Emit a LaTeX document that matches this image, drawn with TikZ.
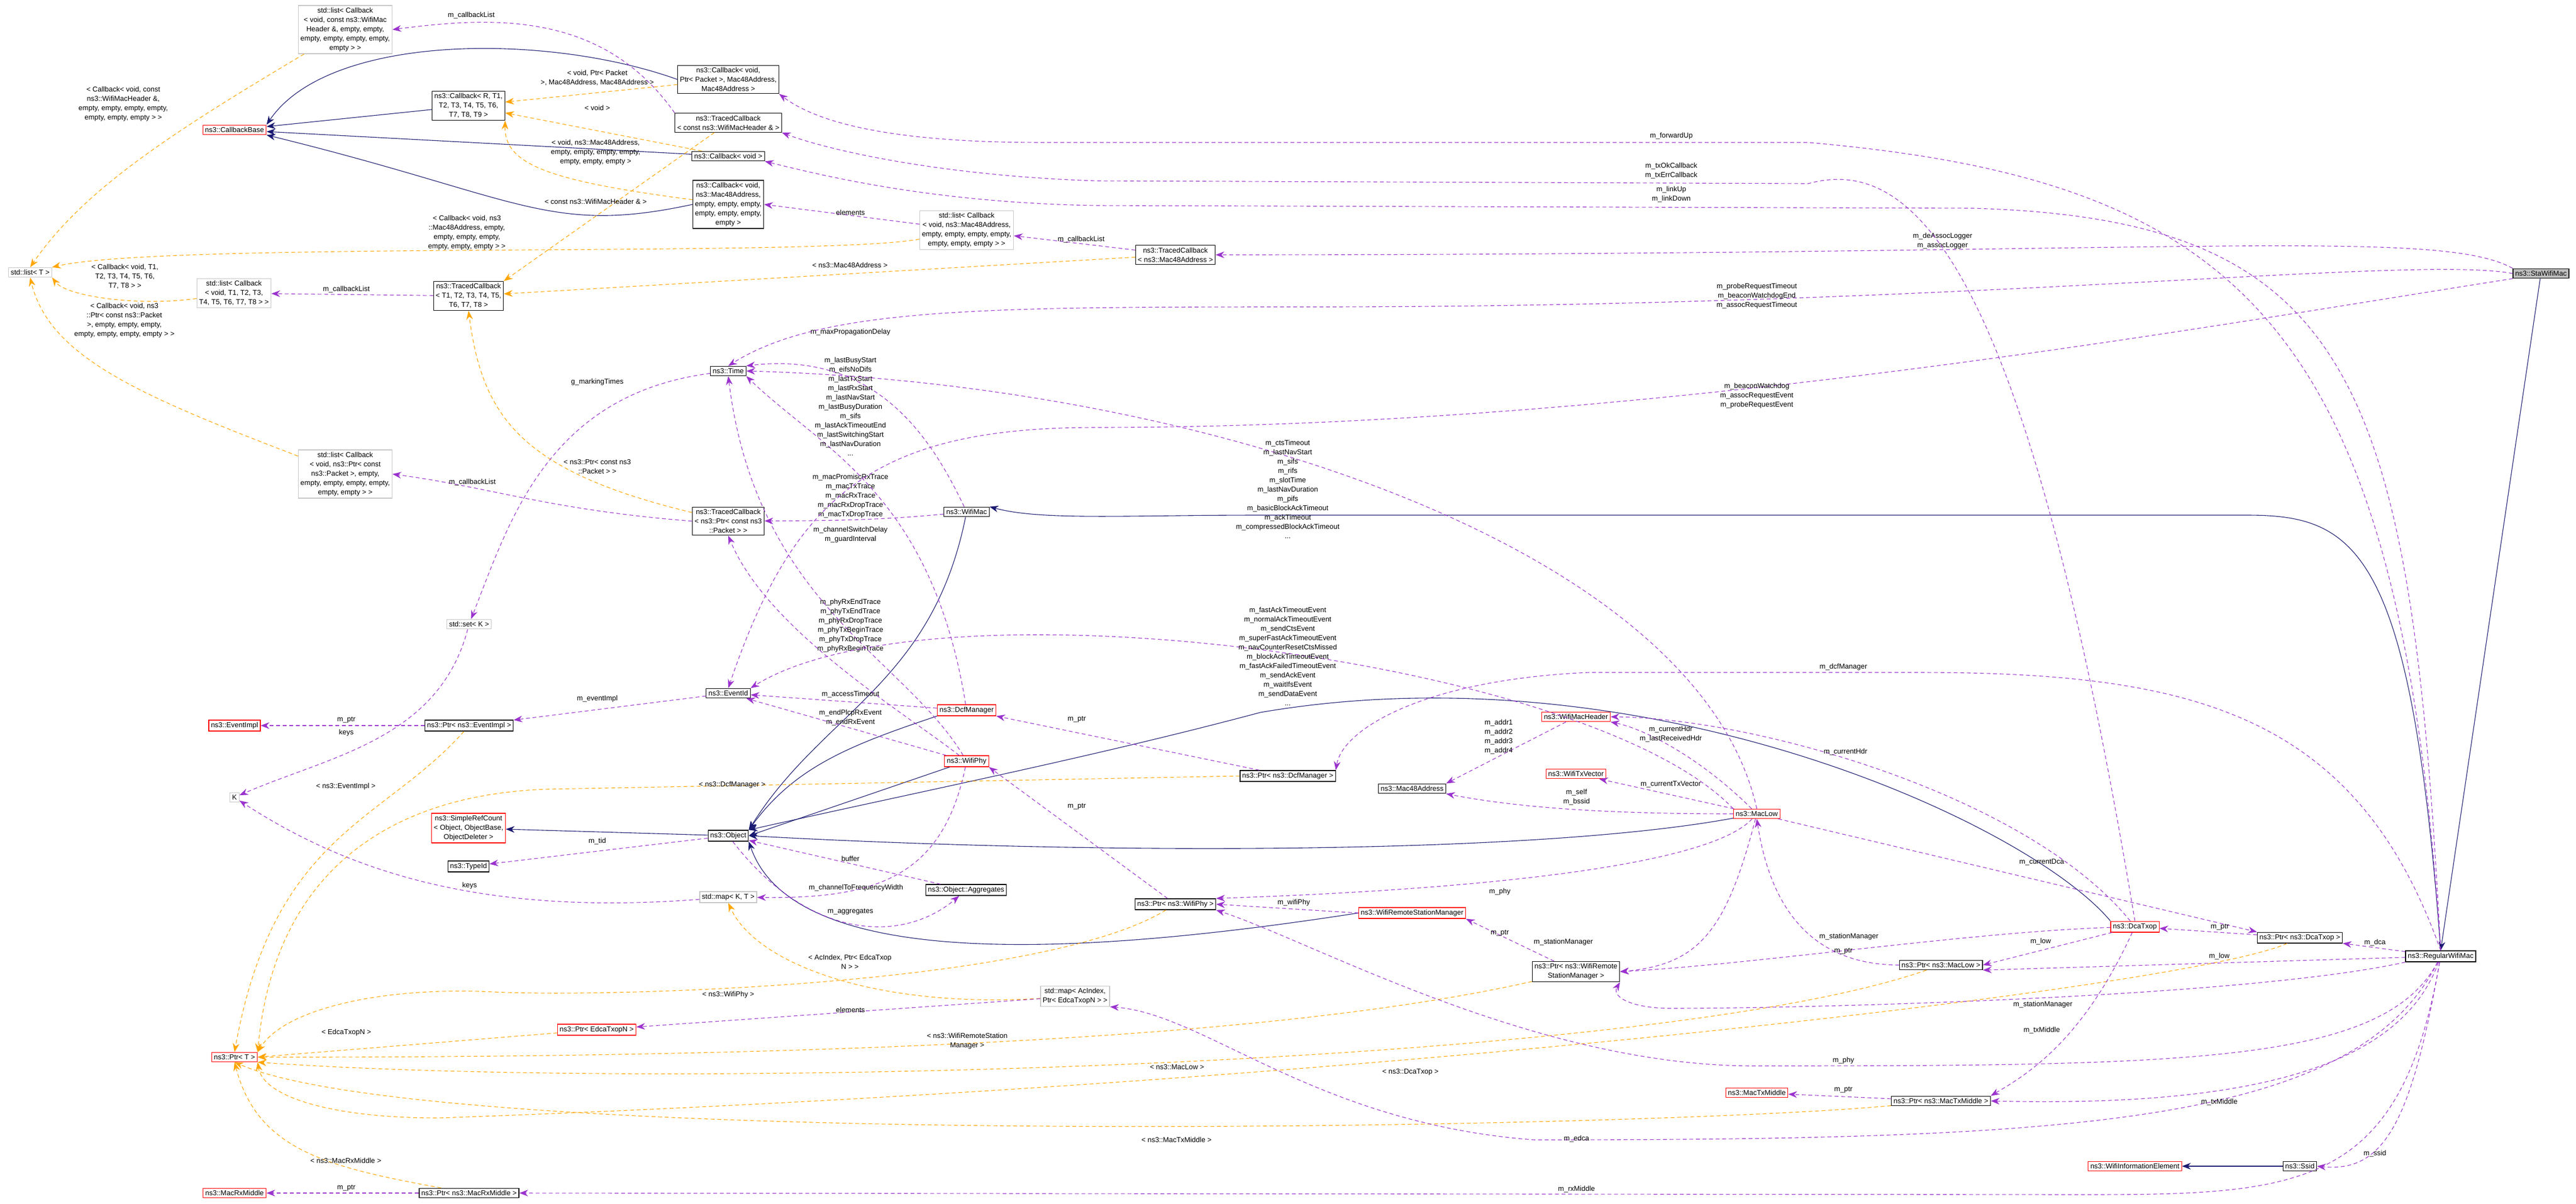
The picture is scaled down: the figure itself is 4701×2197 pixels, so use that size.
\documentclass[tikz,border=0pt]{standalone}
\usepackage{fontspec}
\setmainfont{Liberation Sans}
\usetikzlibrary{arrows.meta}
\definecolor{inhcol}{RGB}{25,25,112}
\definecolor{usecol}{RGB}{154,50,205}
\definecolor{tplcol}{RGB}{255,165,0}
\tikzset{
  cls/.style={draw=black, fill=white, font=\fontsize{13}{17}\selectfont, align=center, inner sep=4pt, line width=1.2pt},
  redcls/.style={cls, draw=red},
  stdcls/.style={cls, draw=gray!45},
  lbl/.style={font=\fontsize{13}{17}\selectfont, align=center, inner sep=1pt},
  inh/.style={draw=inhcol, line width=1.1pt, -{Stealth[length=16pt,width=12pt]}},
  use/.style={draw=usecol, line width=1.1pt, dash pattern=on 7pt off 5pt, -{Stealth[length=16pt,width=12pt]}},
  tpl/.style={draw=tplcol, line width=1.1pt, dash pattern=on 7pt off 5pt, -{Stealth[length=16pt,width=12pt]}}
}
\begin{document}
\begin{tikzpicture}[x=1pt,y=1pt,yscale=-1]
\useasboundingbox (0,0) rectangle (4701,2197);

% classes
\node[stdcls] (listHdr) at (630,54) {std::list\textless{} Callback\\\textless{} void, const ns3::WifiMac\\Header \&, empty, empty,\\empty, empty, empty, empty,\\empty \textgreater{} \textgreater{}};
\node[redcls] (cbBase) at (428,237) {ns3::CallbackBase};
\node[cls] (cbR) at (855,193) {ns3::Callback\textless{} R, T1,\\T2, T3, T4, T5, T6,\\T7, T8, T9 \textgreater{}};
\node[stdcls] (listT) at (55,497) {std::list\textless{} T \textgreater{}};
\node[stdcls] (listTT) at (427,535) {std::list\textless{} Callback\\\textless{} void, T1, T2, T3,\\T4, T5, T6, T7, T8 \textgreater{} \textgreater{}};
\node[cls] (tracedT) at (855,540) {ns3::TracedCallback\\\textless{} T1, T2, T3, T4, T5,\\T6, T7, T8 \textgreater{}};
\node[cls] (cbPkt) at (1329,145) {ns3::Callback\textless{} void,\\Ptr\textless{} Packet \textgreater{}, Mac48Address,\\Mac48Address \textgreater{}};
\node[cls] (tracedHdr) at (1329,224) {ns3::TracedCallback\\\textless{} const ns3::WifiMacHeader \& \textgreater{}};
\node[cls] (cbVoid) at (1329,285) {ns3::Callback\textless{} void \textgreater{}};
\node[cls] (cbMac) at (1329,373) {ns3::Callback\textless{} void,\\ns3::Mac48Address,\\empty, empty, empty,\\empty, empty, empty,\\empty \textgreater{}};
\node[stdcls] (listMac) at (1764,420) {std::list\textless{} Callback\\\textless{} void, ns3::Mac48Address,\\empty, empty, empty, empty,\\empty, empty, empty \textgreater{} \textgreater{}};
\node[cls] (tracedMac) at (2145,465) {ns3::TracedCallback\\\textless{} ns3::Mac48Address \textgreater{}};
\node[cls] (time) at (1329,677) {ns3::Time};
\node[stdcls] (listPkt) at (630,865) {std::list\textless{} Callback\\\textless{} void, ns3::Ptr\textless{} const\\ns3::Packet \textgreater{}, empty,\\empty, empty, empty, empty,\\empty, empty \textgreater{} \textgreater{}};
\node[cls] (tracedPkt) at (1329,951) {ns3::TracedCallback\\\textless{} ns3::Ptr\textless{} const ns3\\::Packet \textgreater{} \textgreater{}};
\node[cls] (wifiMac) at (1764,934) {ns3::WifiMac};
\node[stdcls] (setK) at (856,1139) {std::set\textless{} K \textgreater{}};
\node[cls] (eventId) at (1329,1265) {ns3::EventId};
\node[redcls] (dcfMgr) at (1764,1296) {ns3::DcfManager};
\node[redcls] (eventImpl) at (428,1324) {ns3::EventImpl};
\node[cls] (ptrEvent) at (856,1324) {ns3::Ptr\textless{} ns3::EventImpl \textgreater{}};
\node[redcls] (wifiPhy) at (1764,1389) {ns3::WifiPhy};
\node[cls] (ptrDcf) at (2350,1416) {ns3::Ptr\textless{} ns3::DcfManager \textgreater{}};
\node[stdcls] (keyK) at (428,1455) {K};
\node[redcls] (simpleRef) at (855,1511) {ns3::SimpleRefCount\\\textless{} Object, ObjectBase,\\ObjectDeleter \textgreater{}};
\node[cls] (object) at (1329,1525) {ns3::Object};
\node[cls] (typeId) at (855,1581) {ns3::TypeId};
\node[cls] (aggr) at (1763,1624) {ns3::Object::Aggregates};
\node[stdcls] (mapKT) at (1329,1637) {std::map\textless{} K, T \textgreater{}};
\node[cls] (ptrPhy) at (2145,1650) {ns3::Ptr\textless{} ns3::WifiPhy \textgreater{}};
\node[stdcls] (mapAc) at (1962,1818) {std::map\textless{} AcIndex,\\Ptr\textless{} EdcaTxopN \textgreater{} \textgreater{}};
\node[redcls] (ptrEdca) at (1089,1879) {ns3::Ptr\textless{} EdcaTxopN \textgreater{}};
\node[redcls] (ptrT) at (428,1929) {ns3::Ptr\textless{} T \textgreater{}};
\node[redcls] (rxMid) at (428,2177) {ns3::MacRxMiddle};
\node[cls] (ptrRx) at (856,2177) {ns3::Ptr\textless{} ns3::MacRxMiddle \textgreater{}};
\node[redcls] (hdr) at (2876,1308) {ns3::WifiMacHeader};
\node[redcls] (txVec) at (2876,1412) {ns3::WifiTxVector};
\node[cls] (mac48) at (2577,1439) {ns3::Mac48Address};
\node[redcls] (macLow) at (3206,1485) {ns3::MacLow};
\node[redcls] (wrsm) at (2577,1666) {ns3::WifiRemoteStationManager};
\node[cls] (ptrWrsm) at (2876,1773) {ns3::Ptr\textless{} ns3::WifiRemote\\StationManager \textgreater{}};
\node[cls] (ptrLow) at (3542,1761) {ns3::Ptr\textless{} ns3::MacLow \textgreater{}};
\node[redcls] (txMid) at (3206,1994) {ns3::MacTxMiddle};
\node[cls] (ptrTx) at (3542,2009) {ns3::Ptr\textless{} ns3::MacTxMiddle \textgreater{}};
\node[redcls] (dca) at (3896,1691) {ns3::DcaTxop};
\node[cls] (ptrDca) at (4197,1711) {ns3::Ptr\textless{} ns3::DcaTxop \textgreater{}};
\node[cls] (regMac) at (4454,1745) {ns3::RegularWifiMac};
\node[redcls] (infoElem) at (3896,2128) {ns3::WifiInformationElement};
\node[cls] (ssid) at (4197,2128) {ns3::Ssid};
\node[cls, fill=gray!50] (staMac) at (4637,499) {ns3::StaWifiMac};

% inheritance
\draw[inh] (cbPkt.west) .. controls (1000,60) and (600,60) .. (cbBase.north east);
\draw[inh] (cbR) -- (cbBase);
\draw[inh] (cbVoid) -- (cbBase);
\draw[inh] (cbMac.west) .. controls (1000,430) and (950,360) .. (cbBase.south east);
\draw[inh] (wifiMac) .. controls (1700,1250) and (1500,1300) .. (object.north east);
\draw[inh] (dcfMgr.south west) .. controls (1550,1360) and (1450,1400) .. (object.north east);
\draw[inh] (wifiPhy) -- (object.east);
\draw[inh] (macLow) .. controls (2800,1560) and (2000,1560) .. (object.east);
\draw[inh] (wrsm.west) .. controls (2000,1740) and (1450,1780) .. (object.south east);
\draw[inh] (dca.north west) .. controls (3700,1500) and (3000,1180) .. (2300,1300) .. controls (2000,1380) and (1700,1440) .. (object.north east);
\draw[inh] (regMac.north) .. controls (4400,1000) and (4300,940) .. (4100,940) -- (2300,940) .. controls (2050,940) and (1900,950) .. (wifiMac.north east);
\draw[inh] (staMac) -- (regMac.north);
\draw[inh] (object) -- (simpleRef);
\draw[inh] (ssid) -- (infoElem);

% template instances
\draw[tpl] (listHdr) .. controls (300,250) and (150,350) .. (listT.north);
\node[lbl] (tlHdr) at (225,190) {\textless{} Callback\textless{} void, const\\ns3::WifiMacHeader \&,\\empty, empty, empty, empty,\\empty, empty, empty \textgreater{} \textgreater{}};
\draw[tpl] (cbPkt) -- (cbR);
\node[lbl] (tlPkt) at (1090,142) {\textless{} void, Ptr\textless{} Packet\\\textgreater{}, Mac48Address, Mac48Address \textgreater{}};
\draw[tpl] (cbVoid) -- (cbR);
\node[lbl] (tlVoid) at (1090,197) {\textless{} void \textgreater{}};
\draw[tpl] (cbMac) .. controls (1000,330) and (920,300) .. (cbR.south east);
\node[lbl] (tlMac) at (1087,278) {\textless{} void, ns3::Mac48Address,\\empty, empty, empty, empty,\\empty, empty, empty \textgreater{}};
\draw[tpl] (tracedHdr) -- (tracedT.north east);
\node[lbl] (tlHdr2) at (1087,368) {\textless{} const ns3::WifiMacHeader \& \textgreater{}};
\draw[tpl] (listMac) .. controls (1500,470) and (300,440) .. (listT.north east);
\node[lbl] (tlList) at (852,425) {\textless{} Callback\textless{} void, ns3\\::Mac48Address, empty,\\empty, empty, empty,\\empty, empty, empty \textgreater{} \textgreater{}};
\draw[tpl] (listTT) .. controls (250,560) and (120,540) .. (listT.south east);
\node[lbl] (tlTT) at (228,505) {\textless{} Callback\textless{} void, T1,\\T2, T3, T4, T5, T6,\\T7, T8 \textgreater{} \textgreater{}};
\draw[tpl] (listPkt) .. controls (250,720) and (90,650) .. (listT.south);
\node[lbl] (tlListPkt) at (227,585) {\textless{} Callback\textless{} void, ns3\\::Ptr\textless{} const ns3::Packet\\\textgreater{}, empty, empty, empty,\\empty, empty, empty, empty \textgreater{} \textgreater{}};
\draw[tpl] (tracedMac) -- (tracedT);
\node[lbl] (tlTMac) at (1551,484) {\textless{} ns3::Mac48Address \textgreater{}};
\draw[tpl] (tracedPkt) .. controls (950,860) and (880,760) .. (tracedT.south);
\node[lbl] (tlTPkt) at (1090,852) {\textless{} ns3::Ptr\textless{} const ns3\\::Packet \textgreater{} \textgreater{}};
\draw[tpl] (ptrEvent) .. controls (700,1500) and (500,1520) .. (ptrT.north);
\node[lbl] (tlEv) at (631,1435) {\textless{} ns3::EventImpl \textgreater{}};
\draw[tpl] (ptrDcf.west) -- (1000,1440) .. controls (700,1450) and (500,1600) .. (ptrT.north east);
\node[lbl] (tlDcf) at (1336,1432) {\textless{} ns3::DcfManager \textgreater{}};
\draw[tpl] (ptrEdca) -- (ptrT.east);
\node[lbl] (tlEdca) at (632,1884) {\textless{} EdcaTxopN \textgreater{}};
\draw[tpl] (ptrPhy) .. controls (1900,1800) and (1100,1820) .. (900,1810) .. controls (700,1800) and (520,1840) .. (ptrT.north east);
\node[lbl] (tlPhy) at (1329,1815) {\textless{} ns3::WifiPhy \textgreater{}};
\draw[tpl] (mapAc) .. controls (1600,1840) and (1380,1760) .. (mapKT.south);
\node[lbl] (tlMap) at (1551,1755) {\textless{} AcIndex, Ptr\textless{} EdcaTxop\\N \textgreater{} \textgreater{}};
\draw[tpl] (ptrWrsm) .. controls (2400,1880) and (1700,1930) .. (ptrT.east);
\node[lbl] (tlWrsm) at (1765,1900) {\textless{} ns3::WifiRemoteStation\\Manager \textgreater{}};
\draw[tpl] (ptrLow) .. controls (3000,1950) and (1200,1990) .. (ptrT.south east);
\node[lbl] (tlLow) at (2148,1947) {\textless{} ns3::MacLow \textgreater{}};
\draw[tpl] (ptrDca) .. controls (4000,1800) and (2500,1980) .. (800,2040) .. controls (600,2040) and (480,2000) .. (ptrT.south east);
\node[lbl] (tlDca) at (2574,1956) {\textless{} ns3::DcaTxop \textgreater{}};
\draw[tpl] (ptrTx) .. controls (3000,2060) and (800,2100) .. (ptrT.south);
\node[lbl] (tlTx) at (2147,2080) {\textless{} ns3::MacTxMiddle \textgreater{}};
\draw[tpl] (ptrRx) .. controls (600,2130) and (470,2100) .. (ptrT.south);
\node[lbl] (tlRx) at (631,2118) {\textless{} ns3::MacRxMiddle \textgreater{}};

% members
\draw[use] (tracedHdr.north west) .. controls (1100,20) and (900,30) .. (listHdr.east);
\node[lbl] (luHdr) at (860,28) {m\_callbackList};
\draw[use] (listMac) -- (cbMac.east);
\node[lbl] (luElem) at (1552,388) {elements};
\draw[use] (tracedMac) -- (listMac);
\node[lbl] (luMac) at (1973,437) {m\_callbackList};
\draw[use] (tracedT) -- (listTT);
\node[lbl] (luTT) at (632,528) {m\_callbackList};
\draw[use] (tracedPkt.west) .. controls (1000,930) and (900,890) .. (listPkt.east);
\node[lbl] (luPkt) at (862,880) {m\_callbackList};
\draw[use] (time) .. controls (1000,720) and (930,950) .. (setK);
\node[lbl] (luMark) at (1090,697) {g\_markingTimes};
\draw[use] (setK) .. controls (800,1350) and (600,1380) .. (keyK);
\node[lbl] (luKeys) at (632,1337) {keys};
\draw[use] (ptrEvent) -- (eventImpl);
\node[lbl] (luPtrEv) at (632,1314) {m\_ptr};
\draw[use] (eventId) -- (ptrEvent);
\node[lbl] (luEvImpl) at (1090,1275) {m\_eventImpl};
\draw[use] (object) -- (typeId);
\node[lbl] (luTid) at (1090,1535) {m\_tid};
\draw[use] (mapKT) .. controls (900,1670) and (650,1600) .. (keyK);
\node[lbl] (luKeys2) at (857,1616) {keys};
\draw[use] (aggr) -- (object);
\node[lbl] (luBuf) at (1552,1567) {buffer};
\draw[use] (object) .. controls (1480,1720) and (1650,1720) .. (aggr);
\node[lbl] (luAggr) at (1552,1664) {m\_aggregates};
\draw[use] (wifiPhy) .. controls (1720,1600) and (1600,1640) .. (mapKT);
\node[lbl] (luChan) at (1562,1620) {m\_channelToFrequencyWidth};
\draw[use] (ptrRx) -- (rxMid);
\node[lbl] (luRxPtr) at (632,2168) {m\_ptr};
\draw[use] (regMac) .. controls (4380,2170) and (4200,2180) .. (3800,2180) -- (ptrRx.east);
\node[lbl] (luRx) at (2877,2170) {m\_rxMiddle};
\draw[use] (mapAc) -- (ptrEdca);
\node[lbl] (luElem2) at (1552,1843) {elements};
\draw[use] (regMac) .. controls (4300,2050) and (3800,2080) .. (2800,2080) .. controls (2400,2050) and (2200,1850) .. (mapAc.south east);
\node[lbl] (luEdca) at (2877,2078) {m\_edca};
\draw[use] (wifiMac) .. controls (1600,950) and (1500,950) .. (tracedPkt);
\node[lbl] (luTrace) at (1552,905) {m\_macPromiscRxTrace\\m\_macTxTrace\\m\_macRxTrace\\m\_macRxDropTrace\\m\_macTxDropTrace};
\draw[use] (wifiMac) .. controls (1700,800) and (1600,640) .. (time.north east);
\node[lbl] (luProp) at (1552,606) {m\_maxPropagationDelay};
\draw[use] (dcfMgr) .. controls (1700,900) and (1500,820) .. (time.south east);
\node[lbl] (luDcfT) at (1552,742) {m\_lastBusyStart\\m\_eifsNoDifs\\m\_lastTxStart\\m\_lastRxStart\\m\_lastNavStart\\m\_lastBusyDuration\\m\_sifs\\m\_lastAckTimeoutEnd\\m\_lastSwitchingStart\\m\_lastNavDuration\\...};
\draw[use] (wifiPhy) .. controls (1650,1200) and (1380,1100) .. (time.south);
\node[lbl] (luPhyT) at (1552,976) {m\_channelSwitchDelay\\m\_guardInterval};
\draw[use] (wifiPhy) .. controls (1650,1300) and (1400,1150) .. (tracedPkt.south);
\node[lbl] (luPhyTr) at (1552,1142) {m\_phyRxEndTrace\\m\_phyTxEndTrace\\m\_phyRxDropTrace\\m\_phyTxBeginTrace\\m\_phyTxDropTrace\\m\_phyRxBeginTrace};
\draw[use] (wifiPhy) -- (eventId);
\node[lbl] (luPhyEv) at (1552,1310) {m\_endPlcpRxEvent\\m\_endRxEvent};
\draw[use] (dcfMgr) -- (eventId);
\node[lbl] (luAcc) at (1552,1267) {m\_accessTimeout};
\draw[use] (macLow.north) .. controls (3100,1000) and (2200,700) .. (time.east);
\node[lbl] (luLowT) at (2350,893) {m\_ctsTimeout\\m\_lastNavStart\\m\_sifs\\m\_rifs\\m\_slotTime\\m\_lastNavDuration\\m\_pifs\\m\_basicBlockAckTimeout\\m\_ackTimeout\\m\_compressedBlockAckTimeout\\...};
\draw[use] (macLow.north west) .. controls (2900,1200) and (1700,1050) .. (eventId.north east);
\node[lbl] (luLowEv) at (2350,1198) {m\_fastAckTimeoutEvent\\m\_normalAckTimeoutEvent\\m\_sendCtsEvent\\m\_superFastAckTimeoutEvent\\m\_navCounterResetCtsMissed\\m\_blockAckTimeoutEvent\\m\_fastAckFailedTimeoutEvent\\m\_sendAckEvent\\m\_waitIfsEvent\\m\_sendDataEvent\\...};
\draw[use] (staMac.north west) .. controls (4450,415) and (4000,465) .. (tracedMac.east);
\node[lbl] (luLog) at (3545,440) {m\_deAssocLogger\\m\_assocLogger};
\draw[use] (staMac.west) .. controls (4400,465) and (3600,560) .. (2400,560) .. controls (1800,560) and (1500,560) .. (time.north);
\node[lbl] (luStaT) at (3206,540) {m\_probeRequestTimeout\\m\_beaconWatchdogEnd\\m\_assocRequestTimeout};
\draw[use] (staMac.south west) .. controls (4000,600) and (3000,780) .. (2000,780) .. controls (1600,780) and (1450,900) .. (eventId.north);
\node[lbl] (luStaEv) at (3206,722) {m\_beaconWatchdog\\m\_assocRequestEvent\\m\_probeRequestEvent};
\draw[use] (regMac.north) .. controls (4380,600) and (4100,330) .. (3300,260) -- (1900,260) .. controls (1650,260) and (1500,230) .. (cbPkt.south east);
\node[lbl] (luFwd) at (3050,248) {m\_forwardUp};
\draw[use] (dca.north) .. controls (3700,500) and (3500,280) .. (3300,335) -- (2000,330) .. controls (1700,320) and (1500,270) .. (tracedHdr.south east);
\node[lbl] (luTxCb) at (3050,312) {m\_txOkCallback\\m\_txErrCallback};
\draw[use] (regMac.north) .. controls (4400,700) and (4300,400) .. (3600,380) -- (2000,375) .. controls (1700,370) and (1500,320) .. (cbVoid.south east);
\node[lbl] (luLink) at (3050,355) {m\_linkUp\\m\_linkDown};
\draw[use] (macLow) .. controls (3100,1380) and (3000,1330) .. (hdr.south east);
\node[lbl] (luLowHdr) at (3049,1340) {m\_currentHdr\\m\_lastReceivedHdr};
\draw[use] (dca) .. controls (3700,1450) and (3200,1310) .. (hdr.east);
\node[lbl] (luDcaHdr) at (3368,1372) {m\_currentHdr};
\draw[use] (macLow) -- (txVec);
\node[lbl] (luTxVec) at (3049,1431) {m\_currentTxVector};
\draw[use] (macLow) .. controls (3000,1485) and (2800,1480) .. (mac48.south east);
\node[lbl] (luSelf) at (2877,1455) {m\_self\\m\_bssid};
\draw[use] (hdr) -- (mac48.north east);
\node[lbl] (luAddr) at (2735,1345) {m\_addr1\\m\_addr2\\m\_addr3\\m\_addr4};
\draw[use] (regMac.north) .. controls (4300,1300) and (4000,1227) .. (3500,1227) -- (2900,1227) .. controls (2600,1240) and (2450,1330) .. (ptrDcf.north east);
\node[lbl] (luDcfM) at (3364,1217) {m\_dcfManager};
\draw[use] (ptrDcf) -- (dcfMgr.south east);
\node[lbl] (luDcfPtr) at (1965,1313) {m\_ptr};
\draw[use] (macLow) .. controls (3100,1600) and (2500,1630) .. (ptrPhy.north east);
\node[lbl] (luLowPhy) at (2737,1627) {m\_phy};
\draw[use] (regMac) .. controls (4350,1940) and (4000,1945) .. (3200,1945) .. controls (2800,1945) and (2400,1720) .. (ptrPhy.south east);
\node[lbl] (luRegPhy) at (3364,1935) {m\_phy};
\draw[use] (wrsm.west) -- (ptrPhy.east);
\node[lbl] (luWifiPhy) at (2361,1647) {m\_wifiPhy};
\draw[use] (ptrPhy) -- (wifiPhy.south east);
\node[lbl] (luPhyPtr) at (1965,1472) {m\_ptr};
\draw[use] (macLow) .. controls (3150,1700) and (3100,1760) .. (ptrWrsm.east);
\node[lbl] (luLowSm) at (2853,1719) {m\_stationManager};
\draw[use] (dca) .. controls (3600,1700) and (3200,1760) .. (ptrWrsm.east);
\node[lbl] (luDcaSm) at (3374,1709) {m\_stationManager};
\draw[use] (regMac.south west) .. controls (4100,1820) and (3300,1840) .. (3050,1840) .. controls (2980,1840) and (2940,1820) .. (ptrWrsm.south east);
\node[lbl] (luRegSm) at (3728,1833) {m\_stationManager};
\draw[use] (ptrWrsm) -- (wrsm.south east);
\node[lbl] (luWrsmPtr) at (2737,1703) {m\_ptr};
\draw[use] (ptrLow.west) .. controls (3300,1760) and (3230,1650) .. (macLow.south);
\node[lbl] (luLowPtr) at (3364,1736) {m\_ptr};
\draw[use] (dca) -- (ptrLow.east);
\node[lbl] (luDcaLow) at (3724,1718) {m\_low};
\draw[use] (regMac) -- (ptrLow.south east);
\node[lbl] (luRegLow) at (4050,1745) {m\_low};
\draw[use] (macLow) -- (ptrDca.north west);
\node[lbl] (luCurDca) at (3726,1573) {m\_currentDca};
\draw[use] (ptrDca) -- (dca);
\node[lbl] (luDcaPtr) at (4051,1692) {m\_ptr};
\draw[use] (regMac) -- (ptrDca);
\node[lbl] (luDca) at (4334,1720) {m\_dca};
\draw[use] (dca) .. controls (3800,1900) and (3700,1960) .. (ptrTx.north east);
\node[lbl] (luDcaTx) at (3726,1880) {m\_txMiddle};
\draw[use] (regMac) .. controls (4380,1950) and (4100,2020) .. (ptrTx.east);
\node[lbl] (luRegTx) at (4050,2011) {m\_txMiddle};
\draw[use] (ptrTx) -- (txMid);
\node[lbl] (luTxPtr) at (3364,1989) {m\_ptr};
\draw[use] (regMac) .. controls (4400,2050) and (4350,2140) .. (ssid.east);
\node[lbl] (luSsid) at (4334,2105) {m\_ssid};
\end{tikzpicture}
\end{document}
